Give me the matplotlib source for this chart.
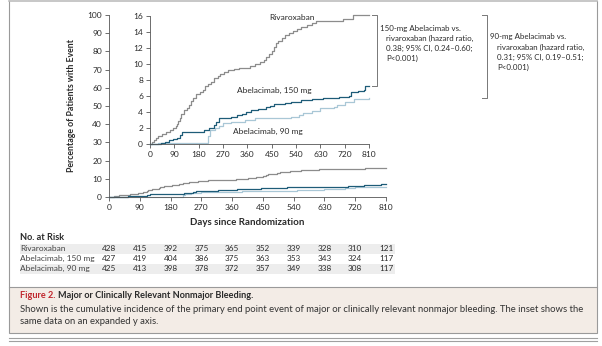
import matplotlib
matplotlib.use("Agg")
import matplotlib.pyplot as plt
from matplotlib.patches import Rectangle
from matplotlib.lines import Line2D
from matplotlib.transforms import blended_transform_factory

plt.rcParams["font.family"] = ["Lato", "DejaVu Sans"]

# cumulative incidence (%), step points
riva_days = [0, 8, 15, 22, 30, 45, 60, 75, 85, 95, 100, 105, 110, 115, 125, 135,
             145, 150, 160, 170, 185, 195, 205, 215, 225, 235, 250, 260, 275, 290,
             310, 330, 370, 390, 405, 420, 430, 440, 450, 458, 465, 475, 490, 500,
             515, 530, 545, 560, 580, 600, 615, 712, 750, 810]
riva_pct = [0, 0.25, 0.5, 0.75, 1.0, 1.25, 1.5, 1.75, 2.0, 2.25, 2.5, 2.9, 3.3, 3.8,
            4.3, 4.5, 4.9, 5.4, 5.8, 6.3, 6.5, 6.8, 7.2, 7.5, 7.8, 8.2, 8.5, 8.7, 9.0,
            9.3, 9.4, 9.5, 9.7, 10.0, 10.2, 10.5, 10.9, 11.2, 11.6, 12.1, 12.6, 12.9,
            13.3, 13.6, 13.9, 14.1, 14.4, 14.6, 14.9, 15.1, 15.4, 15.6, 16.1, 16.1]

abe150_days = [0, 40, 55, 70, 85, 100, 112, 120, 190, 200, 220, 235, 245, 255, 300,
               320, 340, 355, 375, 400, 430, 445, 460, 500, 520, 560, 600, 640, 700,
               735, 745, 770, 790, 795, 810]
abe150_pct = [0, 0.15, 0.3, 0.45, 0.6, 0.75, 1.1, 1.5, 1.5, 1.8, 2.0, 2.4, 2.8, 3.2,
              3.4, 3.6, 3.8, 4.0, 4.2, 4.35, 4.6, 4.8, 5.0, 5.1, 5.3, 5.5, 5.6, 5.75,
              5.85, 6.0, 6.5, 6.6, 6.8, 7.3, 7.3]

abe90_days = [0, 30, 210, 215, 222, 240, 255, 270, 300, 350, 390, 520, 550, 565,
              600, 630, 680, 690, 720, 755, 810]
abe90_pct = [0, 0.1, 0.1, 1.0, 1.75, 2.0, 2.3, 2.6, 2.8, 3.0, 3.25, 3.4, 3.6, 3.9,
             4.1, 4.5, 4.6, 4.9, 5.25, 5.6, 5.7]

risk_days = [0, 90, 180, 270, 360, 450, 540, 630, 720, 810]
risk_labels = ["Rivaroxaban", "Abelacimab, 150 mg", "Abelacimab, 90 mg"]
risk_riva = [428, 415, 392, 375, 365, 352, 339, 328, 310, 121]
risk_150 = [427, 419, 404, 386, 375, 363, 353, 343, 324, 117]
risk_90 = [425, 413, 398, 378, 372, 357, 349, 338, 308, 117]

C_RIVA = "#8c8c8c"
C_150 = "#1e5c78"
C_90 = "#a9c7d6"
TXT = "#2a2a2a"
AX = "#555555"

W, H = 602, 346
fig = plt.figure(figsize=(W / 100, H / 100), dpi=100)


def fx(x):
    return x / W


def fy(y):
    return 1 - y / H


def style_axes(ax):
    for s in ("top", "right"):
        ax.spines[s].set_visible(False)
    for s in ("left", "bottom"):
        ax.spines[s].set_linewidth(0.6)
        ax.spines[s].set_color(AX)
    ax.tick_params(length=3, width=0.6, color=AX, labelsize=6, labelcolor=TXT, pad=2)


def draw_curves(ax, lw):
    ax.plot(riva_days, riva_pct, drawstyle="steps-post", color=C_RIVA, lw=lw, clip_on=False)
    ax.plot(abe90_days, abe90_pct, drawstyle="steps-post", color=C_90, lw=lw, clip_on=False)
    ax.plot(abe150_days, abe150_pct, drawstyle="steps-post", color=C_150, lw=lw, clip_on=False)


# frame around figure
fig.add_artist(Line2D([fx(9), fx(9)], [fy(1), fy(287)], color="#9a9a9a", lw=0.8))
fig.add_artist(Line2D([fx(597), fx(597)], [fy(1), fy(287)], color="#9a9a9a", lw=0.8))
fig.add_artist(Line2D([fx(9), fx(597)], [fy(1), fy(1)], color="#bdbdbd", lw=1.2))

# main axes
ax = fig.add_axes([fx(109), fy(197), fx(386) - fx(109), fy(15) - fy(197)])
style_axes(ax)
ax.set_xlim(0, 810)
ax.set_ylim(0, 100)
ax.set_xticks(range(0, 811, 90))
ax.set_yticks(range(0, 101, 10))
ax.set_facecolor("none")
draw_curves(ax, 0.9)
ax.set_xlabel("Days since Randomization", fontsize=7, fontweight="bold", color=TXT, labelpad=5)
ax.set_ylabel("Percentage of Patients with Event", fontsize=6.3, fontweight="bold",
              color=TXT, labelpad=8)

# inset
ax_in = fig.add_axes([fx(150), fy(144), fx(369) - fx(150), fy(16) - fy(144)])
style_axes(ax_in)
ax_in.set_facecolor("none")
ax_in.set_xlim(0, 810)
ax_in.set_ylim(0, 16)
ax_in.set_xticks(range(0, 811, 90))
ax_in.set_yticks(range(0, 17, 2))
draw_curves(ax_in, 0.9)
lbl = dict(fontsize=6.0, color=TXT, ha="center", va="center", transform=ax_in.transAxes)
ax_in.text(0.648, 0.99, "Rivaroxaban", **lbl)
ax_in.text(0.566, 0.42, "Abelacimab, 150 mg", **lbl)
ax_in.text(0.539, 0.094, "Abelacimab, 90 mg", **lbl)

# brackets linking end values
br = blended_transform_factory(ax_in.transAxes, ax_in.transData)
for x0, x1, lo in ((1.014, 1.037, abe150_pct[-1]), (1.516, 1.539, abe90_pct[-1])):
    ax_in.plot([x0, x1, x1, x0], [riva_pct[-1], riva_pct[-1], lo, lo], color="#777777",
               lw=0.7, transform=br, clip_on=False)

note = dict(fontsize=5.7, color=TXT, ha="left", va="center")
lines1 = ["150-mg Abelacimab vs.", "rivaroxaban (hazard ratio,", "0.38; 95% CI, 0.24\u20130.60;",
          "P<0.001)"]
lines2 = ["90-mg Abelacimab vs.", "rivaroxaban (hazard ratio,", "0.31; 95% CI, 0.19\u20130.51;",
          "P<0.001)"]
for i, t in enumerate(lines1):
    fig.text(fx(380 if i == 0 else 386), fy(28 + 10 * i), t, **note)
for i, t in enumerate(lines2):
    fig.text(fx(490 if i == 0 else 497), fy(37 + 10 * i), t, **note)

# number at risk table
fig.text(fx(20), fy(237), "No. at Risk", fontsize=6.6, fontweight="bold", color=TXT,
         ha="left", va="center")
row_y = [248.5, 258.5, 268.5]
for r in (0, 2):
    fig.add_artist(Rectangle((fx(20), fy(row_y[r] + 5)), fx(395) - fx(20), 10 / H,
                             facecolor="#ededed", edgecolor="none", zorder=-5))
tr = blended_transform_factory(ax.transData, fig.transFigure)
for r, (name, vals) in enumerate(zip(risk_labels, (risk_riva, risk_150, risk_90))):
    fig.text(fx(20), fy(row_y[r]), name, fontsize=6.0, color="#444444", ha="left", va="center")
    for d, v in zip(risk_days, vals):
        fig.text(tr.transform((d, 0))[0] / W, fy(row_y[r]), str(v), fontsize=5.9, color=TXT,
                 ha="center", va="center")

# caption box
fig.add_artist(Rectangle((fx(9), fy(333)), fx(597) - fx(9), (333 - 287) / H,
                         facecolor="#f3ece6", edgecolor="#9a9a9a", lw=0.8))
t1 = fig.text(fx(20), fy(296), "Figure 2. ", fontsize=6.6, fontweight="bold",
              color="#c0262d", ha="left", va="center")
fig.canvas.draw()
bb = t1.get_window_extent()
fig.text(bb.x1 / W, fy(296),
         "Major or Clinically Relevant Nonmajor Bleeding.", fontsize=6.6,
         fontweight="bold", color=TXT, ha="left", va="center")
body = ("Shown is the cumulative incidence of the primary end point event of major or clinically "
        "relevant nonmajor bleeding. The inset shows the")
fig.text(fx(20), fy(309), body, fontsize=6.8, color="#333333", ha="left", va="center")
fig.text(fx(20), fy(321), "same data on an expanded y axis.", fontsize=6.8, color="#333333",
         ha="left", va="center")

fig.add_artist(Line2D([fx(9), fx(597)], [fy(337.5), fy(337.5)], color="#a0a0a0", lw=0.8))
fig.add_artist(Line2D([fx(9), fx(597)], [fy(341), fy(341)], color="#a0a0a0", lw=0.8))

fig.savefig("out.png", dpi=100)
